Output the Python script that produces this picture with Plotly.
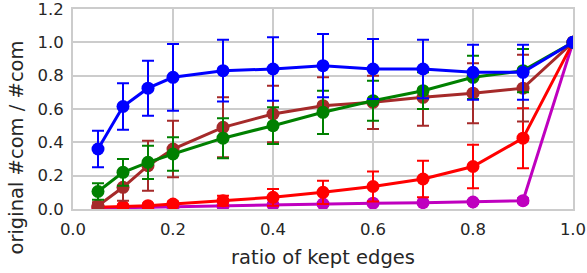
import plotly.graph_objects as go

x = [0.05, 0.1, 0.15, 0.2, 0.3, 0.4, 0.5, 0.6, 0.7, 0.8, 0.9, 1.0]

purple_y = [0.005, 0.008, 0.010, 0.012, 0.018, 0.025, 0.030, 0.035, 0.038, 0.042, 0.050, 1.0]
purple_e = [0.005, 0.005, 0.006, 0.006, 0.008, 0.008, 0.010, 0.010, 0.010, 0.012, 0.015, 0.0]

red_y = [0.010, 0.015, 0.020, 0.030, 0.050, 0.070, 0.100, 0.135, 0.180, 0.255, 0.425, 1.0]
red_e = [0.008, 0.010, 0.012, 0.015, 0.030, 0.050, 0.070, 0.090, 0.110, 0.130, 0.180, 0.0]

brown_y = [0.020, 0.130, 0.260, 0.360, 0.490, 0.570, 0.620, 0.640, 0.670, 0.695, 0.725, 1.0]
brown_e = [0.020, 0.080, 0.150, 0.170, 0.180, 0.170, 0.170, 0.160, 0.170, 0.180, 0.200, 0.0]

green_y = [0.105, 0.220, 0.280, 0.330, 0.425, 0.500, 0.580, 0.650, 0.710, 0.790, 0.830, 1.0]
green_e = [0.050, 0.080, 0.100, 0.100, 0.120, 0.110, 0.130, 0.120, 0.110, 0.130, 0.130, 0.0]

blue_y = [0.360, 0.615, 0.725, 0.790, 0.830, 0.840, 0.860, 0.840, 0.840, 0.820, 0.820, 1.0]
blue_e = [0.110, 0.140, 0.165, 0.200, 0.185, 0.190, 0.190, 0.180, 0.175, 0.165, 0.165, 0.0]

x_ticks = [0.0, 0.2, 0.4, 0.6, 0.8, 1.0]
x_tick_labels = ["0.0", "0.2", "0.4", "0.6", "0.8", "1.0"]
y_ticks = [0.0, 0.2, 0.4, 0.6, 0.8, 1.0, 1.2]
y_tick_labels = ["0.0", "0.2", "0.4", "0.6", "0.8", "1.0", "1.2"]

series = [
    ("purple", purple_y, purple_e, "#bf00bf"),
    ("red", red_y, red_e, "#ff0000"),
    ("brown", brown_y, brown_e, "#a52a2a"),
    ("green", green_y, green_e, "#008000"),
    ("blue", blue_y, blue_e, "#0000ff"),
]

fig = go.Figure()
for name, ys, es, col in series:
    fig.add_trace(go.Scatter(
        x=x, y=ys, name=name, mode="lines+markers",
        line=dict(color=col, width=3),
        marker=dict(color=col, size=13),
        error_y=dict(type="data", array=es, visible=True, color=col,
                     thickness=2, width=6),
        showlegend=False,
    ))

font_color = "#262626"
fig.update_layout(
    width=587, height=273,
    margin=dict(l=73, r=14, t=9, b=64, autoexpand=False),
    paper_bgcolor="white", plot_bgcolor="white",
    font=dict(family="DejaVu Sans", size=16.5, color=font_color),
    xaxis=dict(range=[0, 1.0], tickmode="array", tickvals=x_ticks, ticktext=x_tick_labels,
               automargin=False, ticklabeloverflow="allow",
               showgrid=True, gridcolor="#cccccc", gridwidth=1.5,
               showline=True, linecolor="#cccccc", linewidth=2, mirror=True,
               zeroline=False, ticks="outside", ticklen=4, tickcolor="rgba(0,0,0,0)",
               title=dict(text="ratio of kept edges", font=dict(size=19.5), standoff=13)),
    yaxis=dict(range=[0, 1.2], tickmode="array", tickvals=y_ticks, ticktext=y_tick_labels,
               automargin=False, ticklabeloverflow="allow",
               showgrid=True, gridcolor="#cccccc", gridwidth=1.5,
               showline=True, linecolor="#cccccc", linewidth=2, mirror=True,
               zeroline=False, ticks="outside", ticklen=4, tickcolor="rgba(0,0,0,0)"),
    annotations=[dict(
        text="original #com / #com", textangle=-90,
        xref="paper", yref="paper", x=-0.115, y=-0.24,
        xanchor="center", yanchor="bottom", showarrow=False,
        font=dict(size=19.5, color=font_color),
    )],
)

fig.write_html("out.html", config={"displayModeBar": False},
               post_script="document.body.style.margin='0px';")
